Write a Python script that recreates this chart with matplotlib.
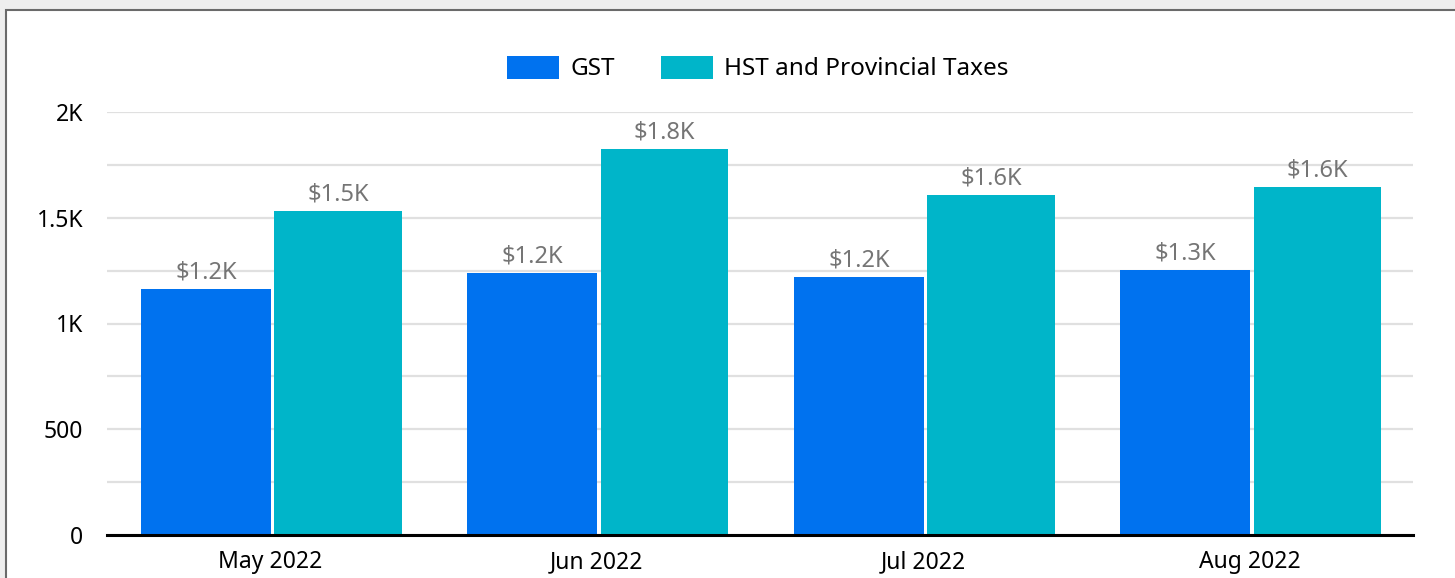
import matplotlib
matplotlib.use('Agg')
import matplotlib.pyplot as plt
import numpy as np
from matplotlib.patches import Rectangle

plt.rcParams['font.family'] = ['Noto Sans', 'DejaVu Sans']

months = ['May 2022', 'Jun 2022', 'Jul 2022', 'Aug 2022']
gst = [1163, 1239, 1220, 1255]
hst = [1532, 1825, 1608, 1645]
series_names = ['GST', 'HST and Provincial Taxes']
colors = ['#0072ef', '#00b5c9']

W, H = 1455, 578
fig = plt.figure(figsize=(W / 100, H / 100), dpi=100, facecolor='#eeeeee')
# white panel with dark border
fig.patches.append(Rectangle((6 / W, -0.1), 1.1, 1 - 10 / H + 0.1, transform=fig.transFigure,
                             facecolor='white', edgecolor='#6a6a6a', linewidth=1.5, zorder=-1))

ax = fig.add_axes([107 / W, 1 - 535 / H, (1413 - 107) / W, (535 - 112) / H])
ax.set_facecolor('none')

x = np.arange(len(months))
b1 = ax.bar(x - 0.197, gst, 0.398, color=colors[0], label=series_names[0], zorder=3)
b2 = ax.bar(x + 0.207, hst, 0.39, color=colors[1], label=series_names[1], zorder=3)

def fmt(v):
    return '${:.1f}K'.format(v / 1000)

for bars, vals in ((b1, gst), (b2, hst)):
    for rect, v in zip(bars, vals):
        ax.annotate(fmt(v), (rect.get_x() + rect.get_width() / 2, v), xytext=(0, 3),
                    textcoords='offset points', ha='center', va='bottom',
                    fontsize=17, color='#757575', zorder=4)

ax.set_xlim(-0.5, 3.5)
ax.set_ylim(0, 2000)
ax.set_yticks([0, 500, 1000, 1500, 2000])
ax.set_yticklabels(['0', '500', '1K', '1.5K', '2K'])
ax.set_yticks(np.arange(0, 2001, 250), minor=True)
ax.set_xticks(x)
ax.set_xticklabels(months)
ax.grid(axis='y', which='both', color='#e0e0e0', linewidth=1.6, zorder=0)
ax.tick_params(axis='both', which='both', length=0, labelsize=16.5, colors='black')
ax.tick_params(axis='y', pad=17)
ax.tick_params(axis='x', pad=11)
for s in ['top', 'right', 'left']:
    ax.spines[s].set_visible(False)
ax.spines['bottom'].set_linewidth(2.2)
ax.spines['bottom'].set_color('black')
ax.spines['bottom'].set_zorder(5)

fig.legend(handles=[b1, b2], labels=series_names, loc='center', ncol=2,
           bbox_to_anchor=(758 / W, 1 - 68.5 / H), frameon=False, fontsize=17.5,
           handlelength=2.14, handleheight=1.1, handletextpad=0.45, columnspacing=1.9)

fig.savefig('out.png', dpi=100, facecolor=fig.get_facecolor())
